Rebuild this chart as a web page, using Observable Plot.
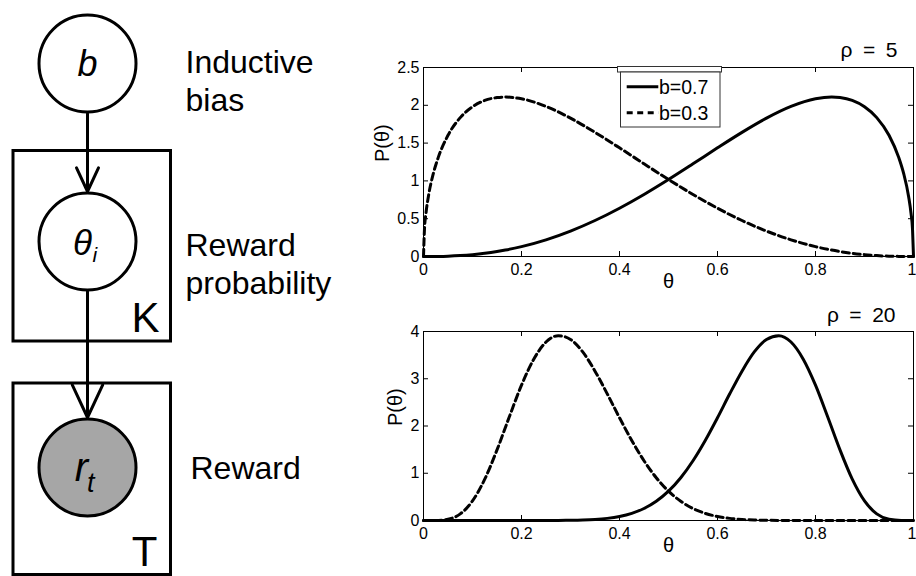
<!DOCTYPE html>
<html><head><meta charset="utf-8">
<script src="https://cdn.jsdelivr.net/npm/d3@7"></script>
<script src="https://cdn.jsdelivr.net/npm/@observablehq/plot@0.6"></script>
<style>
html,body{margin:0;padding:0;background:#fff;}
#root{position:relative;width:916px;height:576px;overflow:hidden;font-family:"Liberation Sans",Arial,sans-serif;background:#fff;}
#root > *{position:absolute;}
</style></head><body><div id="root"></div>
<script>
// ---------------- data ----------------
// graphical model
const nodeIds = ["b", "theta", "r"];
const nodeSymbols = ["b", "θ", "r"];
const nodeSubscripts = ["", "i", "t"];
const nodeObserved = [false, false, true];
const nodeDescriptions = [["Inductive", "bias"], ["Reward", "probability"], ["Reward"]];
const plateLabels = ["K", "T"];
const edgeList = [["b", "theta"], ["theta", "r"]];

// curves
const seriesLabels = ["b=0.7", "b=0.3"];
const rhoLabels = ["ρ\u2002=\u20025", "ρ\u2002=\u200220"];
const thetaRho5 = [0, 0.002, 0.005, 0.01, 0.02, 0.03, 0.05, 0.075, 0.1, 0.125, 0.15, 0.167, 0.2, 0.25, 0.3, 0.35, 0.4, 0.45, 0.5, 0.55, 0.6, 0.65, 0.7, 0.75, 0.8, 0.833, 0.85, 0.875, 0.9, 0.925, 0.95, 0.97, 0.98, 0.99, 0.995, 0.998, 1];
const pRho5b07 = [0, 0, 0, 0.0001, 0.0005, 0.0013, 0.0044, 0.0121, 0.0245, 0.0421, 0.0655, 0.0848, 0.1304, 0.2205, 0.3361, 0.4761, 0.6388, 0.8208, 1.0186, 1.2263, 1.4373, 1.642, 1.830, 1.985, 2.086, 2.109, 2.102, 2.064, 1.980, 1.837, 1.603, 1.308, 1.096, 0.795, 0.569, 0.363, 0];
const pRho5b03 = [0, 0.363, 0.569, 0.795, 1.096, 1.308, 1.603, 1.837, 1.980, 2.064, 2.102, 2.109, 2.086, 1.985, 1.830, 1.642, 1.4373, 1.2263, 1.0186, 0.8208, 0.6388, 0.4761, 0.3361, 0.2205, 0.1304, 0.0848, 0.0655, 0.0421, 0.0245, 0.0121, 0.0044, 0.0013, 0.0005, 0.0001, 0, 0, 0];
const thetaRho20 = [0, 0.025, 0.05, 0.075, 0.1, 0.125, 0.15, 0.175, 0.2, 0.225, 0.25, 0.275, 0.3, 0.325, 0.35, 0.375, 0.4, 0.425, 0.45, 0.475, 0.5, 0.525, 0.55, 0.575, 0.6, 0.625, 0.65, 0.675, 0.7, 0.725, 0.75, 0.775, 0.8, 0.825, 0.85, 0.875, 0.9, 0.925, 0.95, 0.975, 1];
const pRho20b07 = [0, 0, 0, 0, 0, 0, 0, 0, 0, 0.0002, 0.0006, 0.0017, 0.0044, 0.0103, 0.0223, 0.045, 0.0849, 0.151, 0.254, 0.407, 0.621, 0.906, 1.265, 1.694, 2.175, 2.681, 3.161, 3.568, 3.831, 3.912, 3.777, 3.414, 2.864, 2.190, 1.494, 0.875, 0.414, 0.140, 0.026, 0.001, 0];
const pRho20b03 = [0, 0.001, 0.026, 0.140, 0.414, 0.875, 1.494, 2.190, 2.864, 3.414, 3.777, 3.912, 3.831, 3.568, 3.161, 2.681, 2.175, 1.694, 1.265, 0.906, 0.621, 0.407, 0.254, 0.151, 0.0849, 0.045, 0.0223, 0.0103, 0.0044, 0.0017, 0.0006, 0.0002, 0, 0, 0, 0, 0, 0, 0, 0, 0];
const xTicks = [0, 0.2, 0.4, 0.6, 0.8, 1];
const yTicksRho5 = [0, 0.5, 1, 1.5, 2, 2.5];
const yTicksRho20 = [0, 1, 2, 3, 4];

// ---------------- layout (pixels) ----------------
const FONT = "'Liberation Sans', Arial, sans-serif";
const root = document.getElementById("root");
const D = {
  cx: 87, cy: {b: 63, theta: 241, r: 467}, r: 48.5,
  sym: {b: {dx: 0, base: 75, fs: 36}, theta: {dx: -5, base: 254, fs: 35}, r: {dx: -6, base: 480, fs: 40}},
  sub: {theta: {x: 92, base: 261, fs: 21}, r: {x: 86.5, base: 491.5, fs: 27}},
  desc: [{x: 185, bases: [72.7, 110]}, {x: 185, bases: [255, 293]}, {x: 190, bases: [478.3]}],
  plates: [{x1: 13, x2: 170.5, y1: 150.5, y2: 341, lx: 159, lbase: 331.7}, {x1: 13, x2: 170.5, y1: 383, y2: 574.5, lx: 157, lbase: 565}]
};

// ---------------- graphical model ----------------
const nodes = nodeIds.map((id, i) => ({id, sym: nodeSymbols[i], sub: nodeSubscripts[i], observed: nodeObserved[i]}));
const plates = plateLabels.map((label, i) => ({label, ...D.plates[i]}));
const edgesData = edgeList.map(([a, b]) => ({a, b}));
const descs = nodeDescriptions.flatMap((lines, i) => lines.map((t, j) => ({t, x: D.desc[i].x, y: D.desc[i].bases[j]})));
const subs = nodes.filter(d => d.sub);

const diagram = Plot.plot({
  width: 360, height: 576, margin: 0,
  x: {domain: [0, 360], axis: null},
  y: {domain: [576, 0], axis: null},
  style: {fontFamily: FONT, background: "transparent", color: "black"},
  marks: [
    Plot.rect(plates, {x1: "x1", x2: "x2", y1: "y1", y2: "y2", fill: "none", stroke: "black", strokeWidth: 3}),
    Plot.text(plates, {x: "lx", y: "lbase", text: "label", textAnchor: "end", lineAnchor: "bottom", fontSize: 42, fill: "black"}),
    Plot.arrow(edgesData, {
      x1: () => D.cx, x2: () => D.cx,
      y1: d => D.cy[d.a] + D.r + 1.5, y2: d => D.cy[d.b] - D.r - 1.5,
      stroke: "black", strokeWidth: 3, headLength: 18, headAngle: 50
    }),
    Plot.dot(nodes, {x: () => D.cx, y: d => D.cy[d.id], r: D.r, stroke: "black", strokeWidth: 3,
      fill: d => d.observed ? "#a6a6a6" : "white"}),
    Plot.text(nodes, {x: d => D.cx + D.sym[d.id].dx, y: d => D.sym[d.id].base, text: "sym",
      fontSize: d => D.sym[d.id].fs, fontStyle: "italic", lineAnchor: "bottom", fill: "black"}),
    Plot.text(subs, {x: d => D.sub[d.id].x, y: d => D.sub[d.id].base, text: "sub", textAnchor: "start",
      fontSize: d => D.sub[d.id].fs, fontStyle: "italic", lineAnchor: "bottom", fill: "black"}),
    Plot.text(descs, {x: "x", y: "y", text: "t", textAnchor: "start", lineAnchor: "bottom", fontSize: 32, fill: "black"})
  ]
});
diagram.style.left = "0px"; diagram.style.top = "0px";
root.appendChild(diagram);

// ---------------- charts ----------------
function chart({theta, s07, s03, yDomain, yTicks, rho, top, height, marginTop, marginBottom, ylabDx, rhoDx, rhoDy}) {
  const innerH = height - marginTop - marginBottom, innerW = 490;
  const inner = xTicks.slice(0, -1), last = xTicks.slice(-1);
  const p = Plot.plot({
    width: 556, height, marginLeft: 63, marginRight: 3, marginTop, marginBottom,
    x: {domain: [0, 1], axis: null},
    y: {domain: yDomain, axis: null},
    style: {fontFamily: FONT, fontSize: "16px", color: "#000", background: "transparent", overflow: "visible"},
    marks: [
      Plot.lineY(s07, {x: theta, y: s07, stroke: "black", strokeWidth: 3, curve: "monotone-x"}),
      Plot.lineY(s03, {x: theta, y: s03, stroke: "black", strokeWidth: 3, strokeDasharray: "7,4", curve: "monotone-x"}),
      Plot.frame({stroke: "black", strokeWidth: 1}),
      Plot.ruleX(xTicks, {x: d => d, y1: yDomain[0], y2: yDomain[1], stroke: "black", strokeWidth: 1, strokeDasharray: `5,${innerH - 10},5`}),
      Plot.ruleY(yTicks, {y: d => d, x1: 0, x2: 1, stroke: "black", strokeWidth: 1, strokeDasharray: `5,${innerW - 10},5`}),
      Plot.text(inner, {x: d => d, text: d => String(d), frameAnchor: "bottom", lineAnchor: "top", dy: 7, fontSize: 16, fill: "#000"}),
      Plot.text(last, {x: d => d, text: d => String(d), frameAnchor: "bottom", lineAnchor: "top", textAnchor: "end", dx: 3, dy: 7, fontSize: 16, fill: "#000"}),
      Plot.text(yTicks, {y: d => d, text: d => String(d), frameAnchor: "left", textAnchor: "end", dx: -4, fontSize: 16, fill: "#000"}),
      Plot.text(["θ"], {frameAnchor: "bottom", dy: 31, fontSize: 20, fill: "#000"}),
      Plot.text(["P(θ)"], {frameAnchor: "left", rotate: -90, dx: ylabDx, fontSize: 20, fill: "#000"}),
      Plot.text([rho], {frameAnchor: "top-right", textAnchor: "end", lineAnchor: "bottom", dx: rhoDx, dy: rhoDy, fontSize: 21, fill: "#000"})
    ]
  });
  p.style.left = "360px"; p.style.top = top + "px";
  return p;
}
root.appendChild(chart({theta: thetaRho5, s07: pRho5b07, s03: pRho5b03, yDomain: [0, 2.5], yTicks: yTicksRho5,
  rho: rhoLabels[0], top: 0, height: 300, marginTop: 67, marginBottom: 44, ylabDx: -41, rhoDx: -16, rhoDy: -10.3}));
root.appendChild(chart({theta: thetaRho20, s07: pRho20b07, s03: pRho20b03, yDomain: [0, 4], yTicks: yTicksRho20,
  rho: rhoLabels[1], top: 300, height: 276, marginTop: 31, marginBottom: 56, ylabDx: -28, rhoDx: -18, rhoDy: -10}));

// ---------------- legend (top chart) ----------------
const lg = d3.create("svg").attr("width", 112).attr("height", 68)
  .style("left", "615px").style("top", "64px").style("overflow", "visible");
lg.append("rect").attr("x", 2.5).attr("y", 2.5).attr("width", 104).attr("height", 5.5)
  .attr("fill", "white").attr("stroke", "#333").attr("stroke-width", 1);
lg.append("rect").attr("x", 5.5).attr("y", 8).attr("width", 99.5).attr("height", 55)
  .attr("fill", "white").attr("stroke", "#333").attr("stroke-width", 1);
const rows = lg.selectAll("g").data(seriesLabels).join("g")
  .attr("transform", (d, i) => `translate(0,${i === 0 ? 22.7 : 48.7})`);
rows.append("line").attr("x1", 11.7).attr("x2", 43.3).attr("stroke", "black").attr("stroke-width", 3)
  .attr("stroke-dasharray", (d, i) => i === 0 ? null : "6,4.5");
rows.append("text").attr("x", 44).attr("y", 7).attr("font-family", FONT).attr("font-size", 19.5)
  .attr("fill", "#000").text(d => d);
root.appendChild(lg.node());
</script></body></html>
